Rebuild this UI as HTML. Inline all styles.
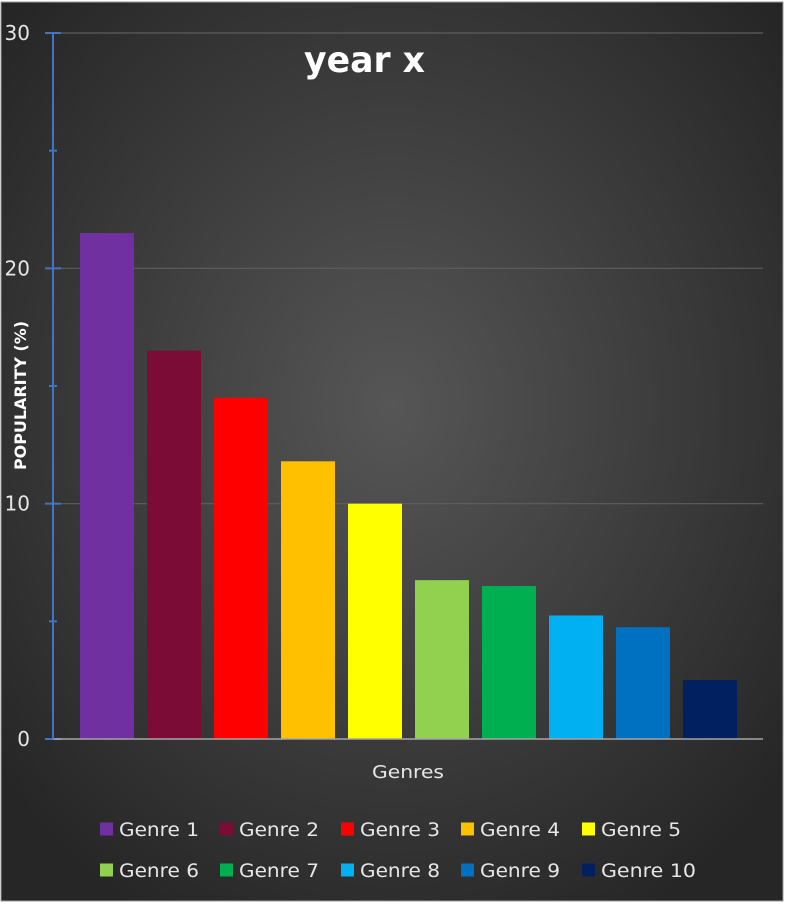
<!DOCTYPE html>
<html><head><meta charset="utf-8"><style>
html,body{margin:0;padding:0;background:#fff}
#wrap{position:relative;width:785px;height:904px;overflow:hidden}
svg{display:block;font-family:"DejaVu Sans","Liberation Sans",sans-serif}
</style></head><body>
<div id="wrap">
<svg id="chart" width="785" height="904">
<defs>
<radialGradient id="bg" cx="50%" cy="45%" r="65%">
<stop offset="0" stop-color="#565656"/>
<stop offset="1" stop-color="#262626"/>
</radialGradient>
</defs>
<rect x="1" y="2" width="782" height="899" fill="url(#bg)" stroke="#9a9a9a" stroke-width="1"/>
<text x="304" y="72" fill="#ffffff" font-size="36" font-weight="bold" textLength="121" lengthAdjust="spacingAndGlyphs">year x</text>
<text transform="translate(26,470) rotate(-90)" fill="#ffffff" font-size="16" font-weight="bold" textLength="149" lengthAdjust="spacingAndGlyphs">POPULARITY (%)</text>
<text x="372" y="778" fill="#e6e6e6" font-size="18" textLength="72" lengthAdjust="spacingAndGlyphs">Genres</text>
<g id="grid"></g><g id="bars"></g><g id="axis"></g><g id="legend"></g>
</svg>
</div>
<script>
const categories = ["Genre 1","Genre 2","Genre 3","Genre 4","Genre 5","Genre 6","Genre 7","Genre 8","Genre 9","Genre 10"];
const values = [21.5,16.5,14.5,11.8,10.0,6.75,6.5,5.25,4.75,2.5];
const colors = ["#7030a0","#7b0c35","#ff0000","#ffc000","#ffff00","#92d050","#00b050","#00b0f0","#0070c0","#002060"];
const majorTicks = [0,10,20,30];
const minorTicks = [5,15,25];
const NS="http://www.w3.org/2000/svg";
const y0=739, y30=33, yMax=30;
function yScale(v){return y0-(v/yMax)*(y0-y30);}
const bandStart=73.5, band=67, barW=54;
function xScale(i){return bandStart+i*band+(band-barW)/2;}
function mk(tag,attrs,parent){const e=document.createElementNS(NS,tag);for(const k in attrs)e.setAttribute(k,attrs[k]);parent.appendChild(e);return e;}
const grid=document.getElementById('grid'),bars=document.getElementById('bars'),axis=document.getElementById('axis'),legend=document.getElementById('legend');
majorTicks.forEach(t=>{
  if(t>0){const l=mk('line',{x1:53,x2:763,y1:yScale(t),y2:yScale(t),stroke:'#5e5e5e','stroke-width':1.2},grid);
  
  }
  const tx=mk('text',{x:30,y:yScale(t)+7,fill:'#e6e6e6','font-size':20,'text-anchor':'end'},axis);
  tx.textContent=t;
  
  
  const tk=mk('line',{x1:45,x2:61,y1:yScale(t),y2:yScale(t),stroke:'#4472c4','stroke-width':2},axis);
  
  
});
minorTicks.forEach(t=>{
  const tk=mk('line',{x1:49,x2:57,y1:yScale(t),y2:yScale(t),stroke:'#4472c4','stroke-width':2},axis);
  
  
});
values.forEach((v,i)=>{
  const r=mk('rect',{x:xScale(i),y:yScale(v),width:barW,height:y0-yScale(v),fill:colors[i]},bars);
  
  
});
const xa=mk('line',{x1:53,x2:763,y1:y0,y2:y0,stroke:'#a6a6a6','stroke-width':1.5},axis);


const ya=mk('line',{x1:53,x2:53,y1:y30,y2:y0,stroke:'#4472c4','stroke-width':2},axis);


const legX=[100,220,341,461,582];
categories.forEach((c,i)=>{
  const row=Math.floor(i/5),col=i%5;
  const cy=row?870:829;
  const g=mk('g',{},legend);
  
  
  mk('rect',{x:legX[col],y:cy-6.5,width:13,height:13,fill:colors[i]},g);
  const t=mk('text',{x:legX[col]+19,y:cy+7,fill:'#e6e6e6','font-size':19,textLength:(c.length>7?95:80),lengthAdjust:'spacingAndGlyphs'},g);
  t.textContent=c;
});
</script>
</body></html>
